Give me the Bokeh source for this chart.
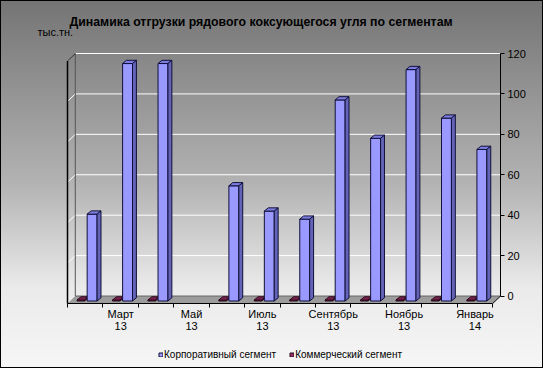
import math
from bokeh.plotting import figure
from bokeh.models import Range1d, FixedTicker, Legend, LegendItem, Label
from bokeh.embed import file_html
from bokeh.resources import INLINE

# ---------------- data ----------------
months = ["Февраль\n13", "Март\n13", "Апрель\n13", "Май\n13", "Июнь\n13", "Июль\n13",
          "Август\n13", "Сентябрь\n13", "Октябрь\n13", "Ноябрь\n13", "Декабрь\n13", "Январь\n14"]
corporate = [43, 117.5, 117.5, float("nan"), 57, 44.5, 40.5, 99.5, 80.5, 114.5, 90.5, 75]
commercial = [0.5, 0.5, 0.5, float("nan"), 0.5, 0.5, 0.5, 0.5, 0.5, 0.5, 0.5, 0.5]
y_ticks = [0, 20, 40, 60, 80, 100, 120]
series_names = ["Корпоративный сегмент", "Коммерческий сегмент"]
title_text = "Динамика отгрузки рядового коксующегося угля по сегментам"
unit_text = "тыс.тн."

# ---------------- layout constants (pixels) ----------------
W, H = 543, 368
RIGHT_PAD = 43
PLOT_L, PLOT_R, PLOT_T, PLOT_B = 67, W - RIGHT_PAD, 53, 303   # where the 3D box sits
FONT = "Liberation Sans"
N = len(months)
YMAX = y_ticks[-1]
DX, DY = 0.22, 3.7          # 3D depth of walls / floor
BASE = -2.47                # floor level of the bars (front face)
BDX, BDY = 0.11, 1.6        # depth of each bar

ppx = (PLOT_R - PLOT_L) / (N + DX)
ppy = (PLOT_B - PLOT_T) / (YMAX + DY)
x_range = Range1d(-PLOT_L / ppx, N + DX)
y_range = Range1d(-DY - (H - PLOT_B) / ppy, YMAX + PLOT_T / ppy)


def px_x(px):
    return (px - PLOT_L) / ppx


def px_y(py):
    return YMAX + (PLOT_T - py) / ppy


p = figure(width=W, height=H, x_range=x_range, y_range=y_range, title=None,
           output_backend="svg", toolbar_location=None, y_axis_location="right",
           min_border_left=0, min_border_right=RIGHT_PAD, min_border_top=0, min_border_bottom=0,
           border_fill_color=None, background_fill_color=None, outline_line_color=None)
p.styles = {"background": "linear-gradient(to bottom, #747474 0%, #b3b3b3 50%, #eaeaea 78%, #f6f6f6 100%)",
            "box-shadow": "inset 0 0 0 1px #000000"}
p.grid.visible = False

# floor
p.patch([0, N, N + DX, DX], [-DY, -DY, 0, 0], fill_color="#9c9c9c", line_color=None)
p.segment([DX], [0], [N + DX], [0], line_color="#666666", line_width=1)
p.segment([N], [-DY], [N + DX], [0], line_color="black", line_width=1)

# grid lines on back wall + left wall diagonals
gt = y_ticks[1:]
p.segment([DX] * len(gt), gt, [N + DX] * len(gt), gt, line_color="white", line_width=1)
p.segment([0] * len(gt), [t - DY for t in gt], [DX] * len(gt), gt, line_color="white", line_width=1)

# left wall edges
p.segment([DX], [0], [DX], [YMAX], line_color="#555555", line_width=1)
p.segment([0], [-DY], [0], [YMAX - DY], line_color="black", line_width=1.5)
p.segment([0], [YMAX - DY], [DX], [YMAX], line_color="black", line_width=1)


def bars3d(values, off0, off1, face, top_col, side_col, edge):
    idx = [i for i, v in enumerate(values) if not math.isnan(v)]
    x0 = [i + off0 for i in idx]
    x1 = [i + off1 for i in idx]
    yb = [BASE] * len(idx)
    yt = [BASE + values[i] for i in idx]
    r = p.quad(left=x0, right=x1, bottom=yb, top=yt, fill_color=face, line_color=edge, line_width=1)
    p.patches([[a, b, b + BDX, a + BDX] for a, b in zip(x0, x1)],
              [[t, t, t + BDY, t + BDY] for t in yt],
              fill_color=top_col, line_color=edge, line_width=1)
    p.patches([[b, b, b + BDX, b + BDX] for b in x1],
              [[lo, hi, hi + BDY, lo + BDY] for lo, hi in zip(yb, yt)],
              fill_color=side_col, line_color=edge, line_width=1)
    return r


r_com = bars3d(commercial, 0.27, 0.48, "#993366", "#7a2150", "#66203f", "#2a0a1a")
r_corp = bars3d(corporate, 0.555, 0.835, "#9999ff", "#7d7de0", "#6363b8", "#10103a")

# x axis: fixed at the front edge of the floor
xa = p.xaxis[0]
xa.fixed_location = -DY
tick_pos = [i + 0.5 for i in range(1, N, 2)]
xa.ticker = FixedTicker(ticks=tick_pos, minor_ticks=list(range(N + 1)))
xa.major_label_overrides = {i + 0.5: months[i] for i in range(1, N, 2)}
xa.bounds = (0, N)
xa.axis_line_color = "black"
xa.major_tick_line_color = None
xa.major_tick_out = 0
xa.major_tick_in = 0
xa.minor_tick_line_color = "black"
xa.minor_tick_out = 4
xa.minor_tick_in = 0
xa.major_label_standoff = 0
xa.major_label_text_font = FONT
xa.major_label_text_font_size = "11px"
xa.major_label_text_color = "black"
xa.major_label_text_line_height = 1.05

# y axis on the right (back) side
ya = p.yaxis[0]
ya.ticker = FixedTicker(ticks=y_ticks, minor_ticks=[])
ya.bounds = (0, YMAX)
ya.axis_line_color = "black"
ya.major_tick_line_color = "black"
ya.major_tick_out = 4
ya.major_tick_in = 0
ya.minor_tick_line_color = None
ya.major_label_standoff = 3
ya.major_label_text_font = FONT
ya.major_label_text_font_size = "11px"
ya.major_label_text_color = "black"

# title and unit
p.add_layout(Label(x=px_x(69), y=px_y(21.5), text=title_text,
                   text_font=FONT, text_font_size="12.3px", text_font_style="bold",
                   text_color="black", text_baseline="alphabetic"))
p.add_layout(Label(x=px_x(37), y=px_y(31), text=unit_text,
                   text_font=FONT, text_font_size="11px", text_color="black",
                   text_baseline="alphabetic"))

legend = Legend(items=[LegendItem(label=series_names[0], renderers=[r_corp]),
                       LegendItem(label=series_names[1], renderers=[r_com])],
                orientation="horizontal", location=(158, 8), glyph_width=5, glyph_height=5,
                label_standoff=1, spacing=13, padding=0, margin=0, label_height=12,
                background_fill_alpha=0, border_line_color=None,
                label_text_font=FONT, label_text_font_size="10px", label_text_color="black")
p.add_layout(legend, "center")

open("out.html", "w").write(file_html(p, INLINE))
